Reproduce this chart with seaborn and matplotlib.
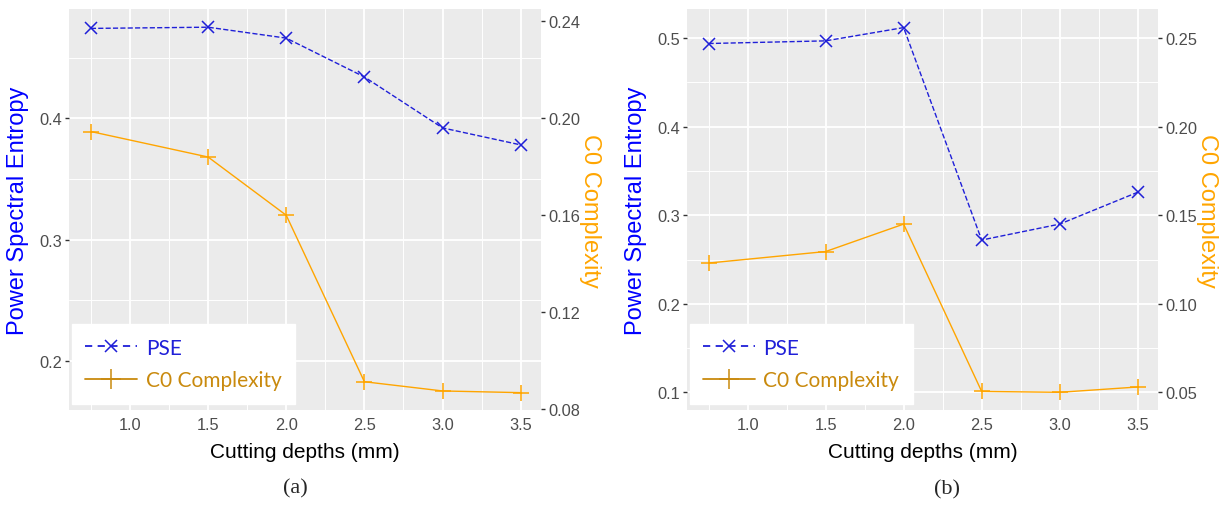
import numpy as np
import pandas as pd
import matplotlib.pyplot as plt
import seaborn as sns
from matplotlib.lines import Line2D
from matplotlib.ticker import MultipleLocator, FixedLocator, FormatStrFormatter

# ---------------------------------------------------------------------------
# Values
# ---------------------------------------------------------------------------
depths = [0.75, 1.5, 2.0, 2.5, 3.0, 3.5]

pse_a = [0.474, 0.475, 0.466, 0.434, 0.392, 0.378]
c0_a = [0.1945, 0.184, 0.160, 0.0914, 0.0876, 0.0869]

pse_b = [0.494, 0.497, 0.512, 0.272, 0.290, 0.326]
c0_b = [0.123, 0.1295, 0.145, 0.0505, 0.050, 0.053]

x_ticks = [1.0, 1.5, 2.0, 2.5, 3.0, 3.5]
left_ticks_a = [0.2, 0.3, 0.4]
right_ticks_a = [0.08, 0.12, 0.16, 0.20, 0.24]
left_ticks_b = [0.1, 0.2, 0.3, 0.4, 0.5]
right_ticks_b = [0.05, 0.10, 0.15, 0.20, 0.25]

PSE_COL = "#1f1fd8"
C0_COL = "#ffa500"
C0_LEG = "#c98a0e"

sns.set_style("darkgrid", {"axes.facecolor": "#EBEBEB", "grid.color": "white"})
plt.rcParams["font.family"] = ["Liberation Sans", "DejaVu Sans"]

fig = plt.figure(figsize=(12.31, 5.06), dpi=100)


def draw_panel(rect, pse, c0, lticks, rticks, lylim, caption, cap_xy):
    ax = fig.add_axes(rect)
    df = pd.DataFrame({"depth": depths, "pse": pse, "c0": c0})

    sns.lineplot(data=df, x="depth", y="pse", ax=ax, color=PSE_COL,
                 linestyle="--", linewidth=1.0, marker="x", markersize=8,
                 markeredgewidth=1.1, markeredgecolor=PSE_COL, dashes=(4, 3))
    ax2 = ax.twinx()
    sns.lineplot(data=df, x="depth", y="c0", ax=ax2, color=C0_COL,
                 linewidth=1.0, marker="+", markersize=12,
                 markeredgewidth=1.1, markeredgecolor=C0_COL)

    ax.set_xlim(0.61, 3.63)
    ax.set_ylim(*lylim)
    ax2.set_ylim(lylim[0] / 2, lylim[1] / 2)

    ax.xaxis.set_major_locator(FixedLocator(x_ticks))
    ax.xaxis.set_minor_locator(MultipleLocator(0.25))
    ax.xaxis.set_major_formatter(FormatStrFormatter("%.1f"))
    ax.yaxis.set_major_locator(FixedLocator(lticks))
    ax.yaxis.set_minor_locator(MultipleLocator(0.05))
    ax.yaxis.set_major_formatter(FormatStrFormatter("%.1f"))
    ax2.yaxis.set_major_locator(FixedLocator(rticks))
    ax2.yaxis.set_major_formatter(FormatStrFormatter("%.2f"))

    ax.grid(which="major", color="white", linewidth=1.3)
    ax.grid(which="minor", color="white", linewidth=0.7)
    ax2.grid(False)
    ax2.set_facecolor("none")
    for a in (ax, ax2):
        for s in a.spines.values():
            s.set_visible(False)
        a.tick_params(which="major", length=3, width=1, color="#333333",
                      labelcolor="#4D4D4D", labelsize=11.8, pad=2)
        a.tick_params(which="minor", length=0)

    ax.set_xlabel("Cutting depths (mm)", fontsize=15, color="black")
    ax.xaxis.set_label_coords(0.5, -0.08)
    ax.set_ylabel("Power Spectral Entropy", fontsize=17, color="#0000ff")
    ax.yaxis.set_label_coords(-0.084, 0.5)
    ax2.set_ylabel("C0 Complexity", fontsize=17, color=C0_COL, rotation=270,
                   va="center")
    ax2.yaxis.set_label_coords(1.104, 0.5)

    handles = [
        Line2D([], [], color=PSE_COL, linestyle="--", dashes=(4, 3), lw=1.3,
               marker="x", markersize=8, markeredgewidth=1.1),
        Line2D([], [], color=C0_LEG, lw=1.3, marker="+", markersize=14,
               markeredgewidth=1.1),
    ]
    leg = ax2.legend(handles, ["PSE", "C0 Complexity"], loc="lower left",
                     bbox_to_anchor=(0.006, 0.015), borderaxespad=0,
                     frameon=True, fancybox=False, framealpha=1,
                     edgecolor="white", facecolor="white", handlelength=2.5,
                     labelspacing=0.62, borderpad=0.65, handletextpad=0.4,
                     prop={"family": "Lato", "size": 15},
                     labelcolor=[PSE_COL, C0_LEG])
    leg.set_zorder(10)

    fig.text(cap_xy[0], cap_xy[1], caption, ha="center", va="center",
             fontsize=16, family="Liberation Serif")
    return ax


draw_panel([69 / 1231, 1 - 411 / 506, 472 / 1231, 401 / 506],
           pse_a, c0_a, left_ticks_a, right_ticks_a, (0.1595, 0.490),
           "(a)", (295 / 1231, 1 - 489 / 506))
draw_panel([686.7 / 1231, 1 - 411 / 506, 471.3 / 1231, 401 / 506],
           pse_b, c0_b, left_ticks_b, right_ticks_b, (0.080, 0.533),
           "(b)", (947 / 1231, 1 - 490 / 506))

fig.savefig("out.png", dpi=100, facecolor="white")
